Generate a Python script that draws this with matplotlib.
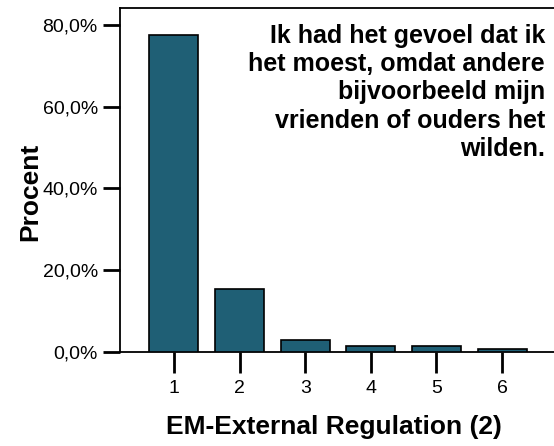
import matplotlib
matplotlib.use("Agg")
import matplotlib.pyplot as plt
from matplotlib.ticker import FuncFormatter

categories = ["1", "2", "3", "4", "5", "6"]
values = [77.5, 15.5, 3.0, 1.5, 1.5, 0.7]
yticks = [0, 20, 40, 60, 80]
annotation = "Ik had het gevoel dat ik\nhet moest, omdat andere\nbijvoorbeeld mijn\nvrienden of ouders het\nwilden."

plt.rcParams['font.family'] = ['Liberation Sans', 'DejaVu Sans']

W, H = 554, 446
fig = plt.figure(figsize=(W / 100, H / 100), dpi=100)
ax = fig.add_axes([120 / W, 1 - 352 / H, 436 / W, 344 / H])

x = list(range(1, len(categories) + 1))
ax.bar(x, values, width=0.75, color="#1f5f75", edgecolor="black", linewidth=1.2, zorder=3)

ax.set_xlim(0.18, 6.82)
ax.set_ylim(0, 84.1)
ax.set_xticks(x)
ax.set_xticklabels(categories)
ax.set_yticks(yticks)
ax.yaxis.set_major_formatter(FuncFormatter(lambda v, p: f"{v:.1f}%".replace(".", ",")))

for s in ["left", "top", "bottom"]:
    ax.spines[s].set_linewidth(1.3)
ax.spines["right"].set_visible(False)
ax.tick_params(axis="y", length=12, width=2, labelsize=14, pad=4, colors="black")
ax.tick_params(axis="x", length=15, width=2, labelsize=14, pad=5, colors="black")

ax.set_ylabel("Procent", fontsize=19, fontweight="bold", va="center")
ax.set_xlabel("EM-External Regulation (2)", fontsize=19, fontweight="bold", va="center")
ax.xaxis.set_label_coords((334 - 120) / 436, -(427 - 352) / 344)
ax.yaxis.set_label_coords(-(120 - 30) / 436, (352 - 192) / 344)

ax.text((545 - 120) / 436, (352 - 24) / 344, annotation, transform=ax.transAxes,
        ha="right", va="top", fontsize=18, fontweight="bold", linespacing=1.22)

fig.savefig("out.png", dpi=100)
